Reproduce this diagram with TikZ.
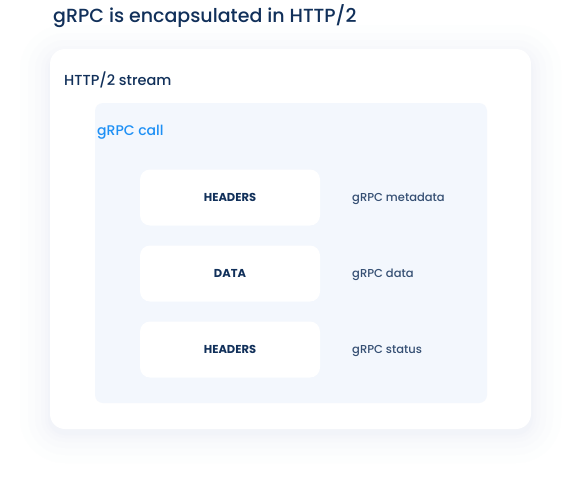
\documentclass[tikz,border=0pt]{standalone}
\usepackage{fontspec}
\setmainfont{Poppins}[UprightFont={* Medium}, BoldFont={* Bold}]
\definecolor{navy}{HTML}{11305A}
\definecolor{callblue}{HTML}{1E90F5}
\definecolor{panel}{HTML}{F3F7FD}
\definecolor{haze}{HTML}{E6ECF3}
\tikzset{
  card/.style={fill=white, rounded corners=15pt},
  callpanel/.style={fill=panel, rounded corners=8pt},
  frame/.style={fill=white, rounded corners=10pt, minimum width=180pt, minimum height=56pt, inner sep=0pt, font=\fontsize{11.5}{13}\selectfont\bfseries, text=navy},
  lbl/.style={anchor=base west, inner sep=0pt, font=\fontsize{11.5}{13}\selectfont, text=navy!85},
}
\begin{document}
\begin{tikzpicture}[x=1pt,y=-1pt]
\useasboundingbox (0,0) rectangle (581,483);
\fill[white] (0,0) rectangle (581,483);
% soft shadow
\foreach \r/\o in {30/0.05,22/0.06,15/0.07,9/0.08,5/0.1,2/0.14}{
  \fill[haze, opacity=\o, rounded corners=15pt+\r pt] (50-\r,49-\r+6) rectangle (531+\r,429+\r+4);
}
\node[anchor=base west, inner sep=0pt, font=\fontsize{19}{22}\selectfont, text=navy] (title) at (53,22) {gRPC is encapsulated in HTTP/2};
\fill[card] (50,49) rectangle (531,429);
\node[anchor=base west, inner sep=0pt, font=\fontsize{14.5}{17}\selectfont, text=navy] (stream) at (64,85) {HTTP/2 stream};
\fill[callpanel] (95,103) rectangle (487,403);
\node[anchor=base west, inner sep=0pt, font=\fontsize{14}{17}\selectfont, text=callblue] (call) at (97,135) {gRPC call};
\node[frame] (h1) at (230,197.5) {HEADERS};
\node[frame] (d) at (230,273.5) {DATA};
\node[frame] (h2) at (230,349.5) {HEADERS};
\node[lbl] (l1) at (352,201) {gRPC metadata};
\node[lbl] (l2) at (352,277) {gRPC data};
\node[lbl] (l3) at (352,353) {gRPC status};
\end{tikzpicture}
\end{document}
